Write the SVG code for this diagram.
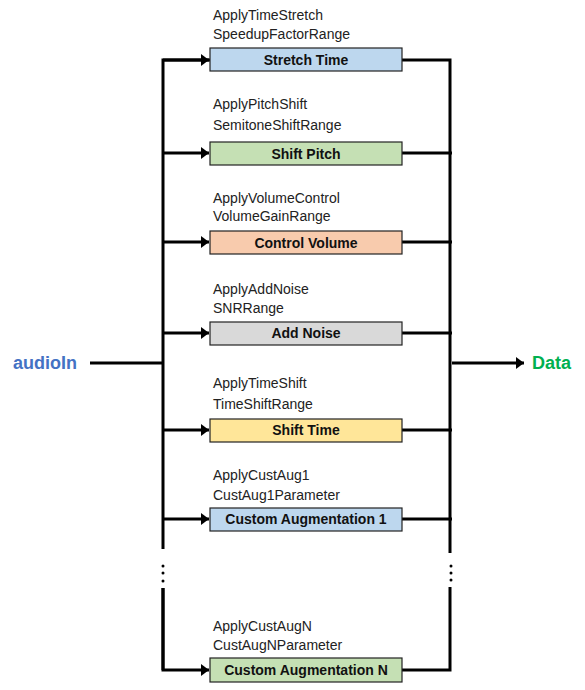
<svg xmlns="http://www.w3.org/2000/svg" width="585" height="690" viewBox="0 0 585 690">
<style>
.lbl{font-family:"Liberation Sans",Arial,sans-serif;font-size:14px;fill:#222}
.bt{font-family:"Liberation Sans",Arial,sans-serif;font-size:14px;font-weight:bold;fill:#111;text-anchor:middle}
.box{stroke:#222;stroke-width:1.2}
.ln{stroke:#000;stroke-width:3;fill:none}
.dot{fill:#000}
</style>
<defs>
<marker id="ah" markerWidth="8" markerHeight="12" refX="8" refY="6" orient="auto" markerUnits="userSpaceOnUse">
<path d="M0,0 L8,6 L0,12 Z" fill="#000"/>
</marker>
</defs>
<rect width="585" height="690" fill="#fff"/>
<g id="connectors">
<line class="ln" x1="90" y1="363" x2="163" y2="363"/>
<polyline class="ln" points="210,60 163,60 163,549"/>
<line class="ln" x1="163" y1="588" x2="163" y2="670"/>
<line class="ln" x1="163" y1="60" x2="209" y2="60" marker-end="url(#ah)"/>
<line class="ln" x1="163" y1="153" x2="209" y2="153" marker-end="url(#ah)"/>
<line class="ln" x1="163" y1="242" x2="209" y2="242" marker-end="url(#ah)"/>
<line class="ln" x1="163" y1="333" x2="209" y2="333" marker-end="url(#ah)"/>
<line class="ln" x1="163" y1="430" x2="209" y2="430" marker-end="url(#ah)"/>
<line class="ln" x1="163" y1="519" x2="209" y2="519" marker-end="url(#ah)"/>
<polyline class="ln" points="163,588 163,670 209,670" marker-end="url(#ah)"/>
<circle class="dot" cx="163" cy="566" r="1.5"/>
<circle class="dot" cx="163" cy="573" r="1.5"/>
<circle class="dot" cx="163" cy="581" r="1.5"/>
<polyline class="ln" points="402,60 450,60 450,553"/>
<polyline class="ln" points="450,587 450,670 402,670"/>
<line class="ln" x1="402" y1="153" x2="452" y2="153"/>
<line class="ln" x1="402" y1="242" x2="452" y2="242"/>
<line class="ln" x1="402" y1="333" x2="452" y2="333"/>
<line class="ln" x1="402" y1="430" x2="452" y2="430"/>
<line class="ln" x1="402" y1="519" x2="452" y2="519"/>
<circle class="dot" cx="451" cy="566" r="1.5"/>
<circle class="dot" cx="451" cy="573" r="1.5"/>
<circle class="dot" cx="451" cy="580" r="1.5"/>
<line class="ln" x1="452" y1="363" x2="524" y2="363" marker-end="url(#ah)"/>
</g>
<g id="audioIn"><text x="13" y="369" style="font-family:'Liberation Sans',Arial,sans-serif;font-size:18px;font-weight:bold;fill:#4472C4">audioIn</text></g>
<g id="data"><text x="532" y="369" style="font-family:'Liberation Sans',Arial,sans-serif;font-size:18px;font-weight:bold;fill:#00B050">Data</text></g>
<g id="stretchTime">
<text class="lbl" x="213" y="20">ApplyTimeStretch</text>
<text class="lbl" x="213" y="39">SpeedupFactorRange</text>
<rect class="box" x="210" y="48" width="192" height="23" fill="#BDD7EE"/>
<text class="bt" x="306" y="65">Stretch Time</text>
</g>
<g id="shiftPitch">
<text class="lbl" x="213" y="109">ApplyPitchShift</text>
<text class="lbl" x="213" y="130">SemitoneShiftRange</text>
<rect class="box" x="210" y="142" width="192" height="23" fill="#C5E0B4"/>
<text class="bt" x="306" y="159">Shift Pitch</text>
</g>
<g id="controlVolume">
<text class="lbl" x="213" y="203">ApplyVolumeControl</text>
<text class="lbl" x="213" y="221">VolumeGainRange</text>
<rect class="box" x="210" y="231" width="192" height="23" fill="#F8CBAD"/>
<text class="bt" x="306" y="248">Control Volume</text>
</g>
<g id="addNoise">
<text class="lbl" x="213" y="294">ApplyAddNoise</text>
<text class="lbl" x="213" y="313">SNRRange</text>
<rect class="box" x="210" y="322" width="192" height="23" fill="#D9D9D9"/>
<text class="bt" x="306" y="338">Add Noise</text>
</g>
<g id="shiftTime">
<text class="lbl" x="213" y="388">ApplyTimeShift</text>
<text class="lbl" x="213" y="409">TimeShiftRange</text>
<rect class="box" x="210" y="419" width="192" height="23" fill="#FFE699"/>
<text class="bt" x="306" y="435">Shift Time</text>
</g>
<g id="customAug1">
<text class="lbl" x="213" y="480">ApplyCustAug1</text>
<text class="lbl" x="213" y="500">CustAug1Parameter</text>
<rect class="box" x="210" y="508" width="192" height="23" fill="#BDD7EE"/>
<text class="bt" x="306" y="524">Custom Augmentation 1</text>
</g>
<g id="customAugN">
<text class="lbl" x="213" y="631">ApplyCustAugN</text>
<text class="lbl" x="213" y="650">CustAugNParameter</text>
<rect class="box" x="210" y="658" width="192" height="24" fill="#C5E0B4"/>
<text class="bt" x="306" y="675">Custom Augmentation N</text>
</g>
</svg>
